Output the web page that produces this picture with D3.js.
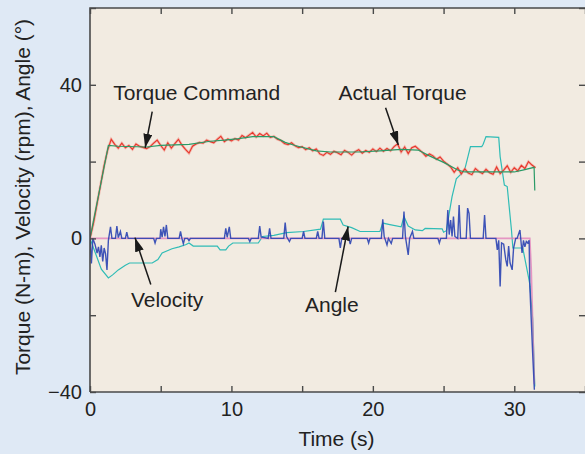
<!DOCTYPE html>
<html>
<head>
<meta charset="utf-8">
<script src="https://cdn.jsdelivr.net/npm/d3@7.9.0/dist/d3.min.js"></script>
<style>
  body { margin: 0; background: #dfe9f5; }
  svg { display: block; font-family: "Liberation Sans", Arial, Helvetica, sans-serif; }
</style>
</head>
<body>
<svg id="chart" width="585" height="454"></svg>
<script>
// Torque command (N-m): [time s, value]
const torqueCommand = [
  [0, 0], [1.3, 24.2], [2, 24], [4, 23.8], [5, 24.2], [7, 24.5], [8.5, 25.3], [9.5, 25.6],
  [10.5, 26], [11.5, 26.5], [13, 26.5], [13.8, 25], [14.5, 24.2], [16, 22.8], [17, 22.5],
  [19, 22.5], [20.5, 22.8], [22, 23.2], [23.2, 23], [24, 21.5], [25, 19.8], [26, 17.8],
  [26.5, 17.3], [30, 17.3], [30.6, 17.8], [31.4, 18.5], [31.45, 12.5]
];

// Actual torque (N-m), one sample every 0.25 s from t = 0
const actualTorqueStep = 0.25;
const actualTorque = [
  0, 4, 9, 14, 19, 23, 25.8, 24.5, 23.5, 24.8, 23.6, 24.2, 23.2, 24.6, 24.0, 23.7,
  23.4, 23.9, 24.8, 25.6, 24.2, 23.0, 24.9, 23.5, 24.7, 25.8, 24.3, 23.2, 22.2, 24.0,
  24.6, 25.0, 24.8, 25.6, 25.2, 24.9, 25.8, 26.6, 25.2, 25.9, 25.4, 26.0, 25.6, 26.8,
  26.2, 26.9, 27.6, 26.4, 27.3, 26.7, 27.4, 26.3, 26.6, 25.8, 25.5, 24.7, 24.4, 24.9,
  24.1, 23.6, 23.9, 23.1, 23.6, 22.8, 23.3, 22.0, 21.6, 22.4, 21.9, 22.7, 22.3, 21.8,
  22.9, 22.4, 21.7, 22.6, 23.1, 22.2, 22.9, 22.4, 23.3, 22.6, 23.5, 22.7, 23.4, 22.8,
  23.9, 24.6, 22.5, 23.8, 22.1, 23.6, 24.0, 23.2, 22.4, 21.4, 22.0, 21.5, 20.6, 21.2,
  20.1, 19.4, 18.6, 17.2, 18.4, 16.8, 18.1, 17.0, 16.6, 18.2, 17.4, 16.9, 18.0, 17.1,
  16.7, 18.6, 16.9, 17.8, 18.9, 17.2, 18.4, 17.6, 19.0, 18.2, 20.0, 19.1, 18.4
];

// Velocity (rpm): [time s, value]
const velocity = [
  [0, 0], [0.1, -6.5], [0.2, 0], [0.35, -1.5], [0.5, -3.8], [0.6, -2.2], [0.7, -4.8],
  [0.8, -1.8], [0.9, -6], [1.0, -2.5], [1.1, -4], [1.2, -8.2], [1.3, -0.5], [1.45, 3],
  [1.55, 0], [1.8, 0], [1.9, 3.2], [2.0, 0.2], [2.15, 1.8], [2.25, 0], [2.5, 0], [2.6, 1.6],
  [2.7, 0], [4.5, 0], [4.6, -1.2], [4.7, 0], [4.95, 0], [5.0, 2.4], [5.1, 0.3], [5.2, 3],
  [5.3, 0.5], [5.4, 3.5], [5.5, 0], [6.3, 0], [6.4, 1.8], [6.5, 0], [6.6, -1.4], [6.7, 0],
  [6.9, 0], [7.0, -0.6], [7.1, 0], [9.5, 0], [9.6, 2.6], [9.7, 0.3], [9.85, 3], [9.95, 0],
  [11.2, 0], [11.3, -0.8], [11.4, 0], [11.9, 0], [12.0, 3.2], [12.1, 0.4], [12.6, 0],
  [12.7, 2.6], [12.8, 0], [13.7, 0], [13.8, 4.1], [13.9, 0.5], [14.1, -0.8], [14.2, 0],
  [15.0, 0], [15.1, 1.8], [15.2, 0], [16.0, 0], [16.1, 1.8], [16.2, 0], [16.4, 0],
  [16.5, 4.4], [16.6, 0], [17.6, 0], [17.7, -2.5], [17.8, 0], [18.3, 0], [18.4, -1.5],
  [18.5, 0], [19.6, 0], [19.7, -1.2], [19.8, 0], [20.6, 0], [20.7, 5], [20.8, 0.5],
  [21.0, -1.7], [21.1, 0], [21.3, -1.3], [21.4, 0], [22.1, 0], [22.2, 7], [22.3, 0.5],
  [22.5, -4.3], [22.6, 0], [22.8, 1.8], [22.9, 0], [24.6, 0], [24.7, -1.2], [24.8, 0],
  [25.2, 0], [25.3, 7.4], [25.4, 1], [25.5, 4.8], [25.6, 0.5], [25.7, 5.7], [25.8, 0.5],
  [26.0, 0], [26.1, 8.7], [26.2, 0], [26.6, 0], [26.7, 7.9], [26.8, 6.5], [26.9, 0],
  [27.8, 0], [27.9, 6.1], [28.0, 0], [28.7, 0], [28.8, -3], [28.9, -0.5], [29.0, -12.5],
  [29.1, -1.2], [29.25, -1.5], [29.4, -5.6], [29.5, -7.3], [29.6, -2], [29.7, -6.4],
  [29.85, -8.2], [29.95, -2.5], [30.1, 0], [30.2, 0], [30.4, 2.2], [30.55, -3.8],
  [30.65, -0.5], [30.75, -2.2], [30.85, -0.8], [30.95, -1.2], [31.05, -0.5], [31.1, -12.5],
  [31.3, -30], [31.42, -39.4]
];

// Velocity command (rpm)
const velocityCommand = [[0, 0], [31.1, 0], [31.2, -8], [31.42, -38]];

// Angle (deg): [time s, value]
const angle = [
  [0, 0], [0.3, -3], [0.8, -8], [1.3, -10.3], [1.6, -9.5], [2.0, -8.2], [2.5, -7],
  [2.8, -6.4], [4.4, -6.4], [4.8, -5.5], [5.1, -3.8], [5.8, -2.7], [6.3, -2.2], [6.8, -1.6],
  [7.0, -1.2], [7.3, -2], [9.0, -2], [9.2, -3], [9.6, -3], [9.8, -2], [10.1, -1.2],
  [11.9, -1.2], [12.2, 0.5], [13.0, 0.8], [13.9, 1.5], [15.1, 1.8], [16.3, 2.4], [16.5, 5],
  [17.7, 5], [17.9, 3.5], [18.5, 2.8], [19.1, 1.8], [20.5, 1.8], [20.7, 4], [21.2, 3.6],
  [22.0, 3], [22.2, 5.7], [22.5, 3.2], [23.0, 2.2], [23.5, 2], [23.7, 2.6], [24.9, 2.5],
  [25.0, 1.6], [25.2, 2], [25.4, 6.6], [25.6, 10.9], [25.9, 15.5], [26.3, 17], [26.5, 18],
  [26.9, 23.9], [27.7, 23.9], [27.8, 24.5], [28.0, 26.5], [28.9, 26.3], [29.0, 21.3],
  [29.3, 13.9], [29.5, 13.5], [29.8, 2.2], [29.9, -2.5], [30.6, -2.5], [31.0, -10],
  [31.1, -12], [31.3, -21], [31.45, -38.6]
];

const xTicks = [0, 5, 10, 15, 20, 25, 30, 35];
const yTicks = [-40, -20, 0, 20, 40, 60];

// annotations: label, text anchor [t, v], arrow tail [t, v], arrow tip [t, v]
const notes = [
  { label: 'Torque Command', at: [7.55, 36], from: [4.4, 33], to: [3.9, 23.6] },
  { label: 'Actual Torque', at: [22.1, 36], from: [20.9, 34], to: [21.8, 24.3] },
  { label: 'Velocity', at: [5.45, -17.8], from: [4.3, -12], to: [3.18, 0.2] },
  { label: 'Angle', at: [17.1, -19.1], from: [17.35, -14], to: [18.25, 3.1] }
];

const svg = d3.select('#chart');
const W = 585, H = 454;
const mLeft = 90, mRight = 585, mTop = 8, mBottom = 392;

const x = d3.scaleLinear().domain([0, 35]).range([mLeft, mRight]);
const y = d3.scaleLinear().domain([-40, 60]).range([mBottom, mTop]);

svg.append('rect').attr('width', W).attr('height', H).attr('fill', '#dfe9f5');
svg.append('rect')
  .attr('x', mLeft).attr('y', mTop)
  .attr('width', mRight - mLeft).attr('height', mBottom - mTop)
  .attr('fill', '#f2ebe1');

svg.append('clipPath').attr('id', 'clip')
  .append('rect').attr('x', mLeft).attr('y', mTop).attr('width', mRight - mLeft).attr('height', mBottom - mTop);

const line = d3.line().x(d => x(d[0])).y(d => y(d[1]));
const plot = svg.append('g').attr('clip-path', 'url(#clip)');

plot.append('path').datum(angle)
  .attr('d', line).attr('fill', 'none').attr('stroke', '#2fbcb6').attr('stroke-width', 1.2);

const torquePts = actualTorque.map((v, i) => [i * actualTorqueStep, v]);
plot.append('path').datum(torquePts)
  .attr('d', line).attr('fill', 'none').attr('stroke', '#f08a80').attr('stroke-width', 2.6).attr('opacity', 0.55);
plot.append('path').datum(torquePts)
  .attr('d', line).attr('fill', 'none').attr('stroke', '#e8352a').attr('stroke-width', 1.1);
plot.append('path').datum(torqueCommand)
  .attr('d', line).attr('fill', 'none').attr('stroke', '#2a9a66').attr('stroke-width', 1.2);

plot.append('path').datum(velocityCommand)
  .attr('d', line).attr('fill', 'none').attr('stroke', '#e07ab8').attr('stroke-width', 1.6).attr('opacity', 0.75);
plot.append('path').datum(velocity)
  .attr('d', line).attr('fill', 'none').attr('stroke', '#2a42b2').attr('stroke-width', 1.4).attr('opacity', 0.9);

// axes, ticks pointing inward on all four sides
const axisColor = '#4a4a4a';
function styleAxis(g) {
  g.select('.domain').remove();
  g.selectAll('.tick line').attr('stroke', axisColor).attr('stroke-width', 1.4);
  g.selectAll('.tick text').attr('fill', '#222').style('font-size', '20px');
}

svg.append('g').attr('transform', `translate(0,${mBottom})`)
  .call(d3.axisBottom(x).tickValues(xTicks).tickSize(-6).tickPadding(10)
    .tickFormat(d => d % 10 === 0 && d < 35 ? d : ''))
  .call(styleAxis);
svg.append('g').attr('transform', `translate(0,${mTop})`)
  .call(d3.axisTop(x).tickValues(xTicks).tickSize(-6).tickFormat(''))
  .call(styleAxis);
svg.append('g').attr('transform', `translate(${mLeft},0)`)
  .call(d3.axisLeft(y).tickValues(yTicks).tickSize(-6).tickPadding(8)
    .tickFormat(d => d % 40 === 0 ? d3.format('')(d) : ''))
  .call(styleAxis);
svg.append('g').attr('transform', `translate(${mRight},0)`)
  .call(d3.axisRight(y).tickValues(yTicks).tickSize(-6).tickFormat(''))
  .call(styleAxis);

svg.append('path')
  .attr('d', `M${mLeft},${mBottom}V${mTop}H${mRight}M${mLeft},${mBottom}H${mRight}`)
  .attr('fill', 'none').attr('stroke', axisColor).attr('stroke-width', 1.6);

// axis titles
svg.append('text')
  .attr('x', (mLeft + mRight) / 2 - 1).attr('y', 446)
  .attr('text-anchor', 'middle').attr('fill', '#222').style('font-size', '21px')
  .text('Time (s)');
svg.append('text')
  .attr('transform', 'translate(30,197) rotate(-90)')
  .attr('text-anchor', 'middle').attr('fill', '#222').style('font-size', '21px')
  .text('Torque (N-m), Velocity (rpm), Angle (°)');

// annotations
svg.append('defs').append('marker')
  .attr('id', 'head').attr('viewBox', '0 0 14 9')
  .attr('refX', 14).attr('refY', 4.5)
  .attr('markerWidth', 14).attr('markerHeight', 9)
  .attr('markerUnits', 'userSpaceOnUse').attr('orient', 'auto')
  .append('path').attr('d', 'M0,0L14,4.5L0,9z').attr('fill', '#1a1a1a');

const ann = svg.append('g');
ann.selectAll('line').data(notes).join('line')
  .attr('x1', d => x(d.from[0])).attr('y1', d => y(d.from[1]))
  .attr('x2', d => x(d.to[0])).attr('y2', d => y(d.to[1]))
  .attr('stroke', '#1a1a1a').attr('stroke-width', 1.5)
  .attr('marker-end', 'url(#head)');
ann.selectAll('text').data(notes).join('text')
  .attr('x', d => x(d.at[0])).attr('y', d => y(d.at[1]))
  .attr('text-anchor', 'middle').attr('fill', '#222').style('font-size', '21px')
  .text(d => d.label);
</script>
</body>
</html>
